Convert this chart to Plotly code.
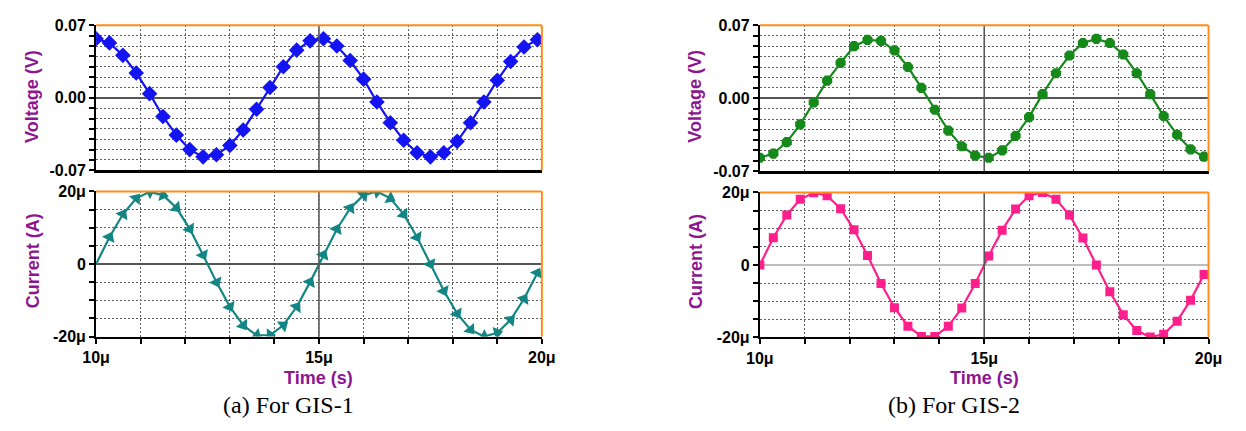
import plotly.graph_objects as go

# ---------------- data ----------------
t_us = [10.0, 10.3, 10.6, 10.9, 11.2, 11.5, 11.8, 12.1, 12.4, 12.7, 13.0, 13.3,
        13.6, 13.9, 14.2, 14.5, 14.8, 15.1, 15.4, 15.7, 16.0, 16.3, 16.6, 16.9,
        17.2, 17.5, 17.8, 18.1, 18.4, 18.7, 19.0, 19.3, 19.6, 19.9]

v_gis1 = [0.057, 0.053, 0.041, 0.024, 0.004, -0.018, -0.036, -0.050, -0.057, -0.055,
          -0.046, -0.031, -0.011, 0.010, 0.030, 0.046, 0.055, 0.057, 0.050, 0.036,
          0.018, -0.004, -0.024, -0.041, -0.053, -0.057, -0.053, -0.042, -0.024, -0.004,
          0.017, 0.035, 0.049, 0.056]

i_gis1 = [0.0, 7.4, 13.7, 18.1, 19.9, 19.0, 15.5, 9.7, 2.5, -5.0,
          -11.8, -16.9, -19.7, -19.6, -16.9, -11.8, -5.0, 2.5, 9.6, 15.4,
          19.0, 20.0, 18.1, 13.7, 7.4, 0.0, -7.4, -13.7, -18.1, -20.0,
          -19.0, -15.4, -9.6, -2.5]

v_gis2 = [-0.057, -0.053, -0.042, -0.025, -0.004, 0.017, 0.034, 0.050, 0.056, 0.055,
          0.046, 0.030, 0.010, -0.011, -0.031, -0.046, -0.055, -0.057, -0.050, -0.036,
          -0.018, 0.004, 0.024, 0.041, 0.053, 0.057, 0.053, 0.042, 0.024, 0.004,
          -0.017, -0.035, -0.049, -0.056]

i_gis2 = [0.0, 7.5, 13.8, 18.1, 19.9, 19.1, 15.5, 9.7, 2.6, -5.1,
          -11.8, -16.9, -19.7, -19.7, -16.9, -11.9, -5.1, 2.5, 9.6, 15.4,
          19.1, 20.0, 18.1, 13.8, 7.4, 0.0, -7.4, -13.7, -18.1, -19.9,
          -19.1, -15.5, -9.7, -2.6]

x_tickvals = [10, 11, 12, 13, 14, 15, 16, 17, 18, 19, 20]
x_ticktext = ["10\u03bc", "", "", "", "", "15\u03bc", "", "", "", "", "20\u03bc"]
v_tickvals = [-0.07, -0.06, -0.05, -0.04, -0.03, -0.02, -0.01, 0.0,
              0.01, 0.02, 0.03, 0.04, 0.05, 0.06, 0.07]
v_ticktext = ["-0.07", "", "", "", "", "", "", "0.00", "", "", "", "", "", "", "0.07"]
i_tickvals = [-20, -15, -10, -5, 0, 5, 10, 15, 20]
i_ticktext = ["-20\u03bc", "", "", "", "0", "", "", "", "20\u03bc"]

# ---------------- styles ----------------
W, H = 1246, 431
ORANGE = "#ff8c1a"
PURPLE = "#8e1592"
GRID = "#5e5e5e"
TICKFONT = dict(family="Liberation Sans, Arial", size=16, color="black", weight="bold")
TITLEFONT = dict(family="Liberation Sans, Arial", size=18, color=PURPLE, weight="bold")


def px_x(p):
    return p / W


def px_y(p):
    return 1 - p / H


panels = {
    # name: (x0px, x1px, y0px(top), y1px(bottom))
    "lt": (84, 540, 18, 169),
    "lb": (84, 540, 191, 342),
    "rt": (763, 1222, 18, 170),
    "rb": (763, 1222, 192, 343),
}

fig = go.Figure()

traces = [
    ("x", "y", v_gis1, "#1414f0", dict(symbol="diamond", size=12)),
    ("x2", "y2", i_gis1, "#138585", dict(symbol="triangle-up", size=12, angleref="previous")),
    ("x3", "y3", v_gis2, "#15891a", dict(symbol="octagon", size=11)),
    ("x4", "y4", i_gis2, "#ff1f8c", dict(symbol="square", size=9)),
]
for xa, ya, vals, col, mk in traces:
    fig.add_trace(go.Scatter(
        x=t_us, y=vals, xaxis=xa, yaxis=ya, mode="lines+markers",
        line=dict(color=col, width=2.2),
        marker=dict(color=col, line=dict(width=0), **mk),
        showlegend=False, cliponaxis=True,
    ))

layout = dict(width=W, height=H, margin=dict(l=0, r=0, t=0, b=0),
              paper_bgcolor="white", plot_bgcolor="white", showlegend=False)

axis_defs = [
    ("xaxis", "yaxis", "lt", "x", "y", "v", False, "#555555"),
    ("xaxis2", "yaxis2", "lb", "x2", "y2", "i", True, "#555555"),
    ("xaxis3", "yaxis3", "rt", "x3", "y3", "v", False, "#555555"),
    ("xaxis4", "yaxis4", "rb", "x4", "y4", "i", True, "#bdbdbd"),
]
shapes = []
for xk, yk, pk, xr, yr, kind, show_x, zcol in axis_defs:
    x0, x1, y0, y1 = panels[pk]
    layout[xk] = dict(
        domain=[px_x(x0), px_x(x1)], anchor=yr, range=[10, 20],
        tickmode="array", tickvals=x_tickvals,
        ticktext=x_ticktext if show_x else [""] * len(x_tickvals),
        showticklabels=show_x, ticks="outside" if show_x else "",
        ticklen=5, tickwidth=1.5, tickcolor="black", tickfont=TICKFONT,
        showgrid=True, gridcolor=GRID, gridwidth=1, griddash="2px,2px",
        showline=True, linecolor="black", linewidth=2.5 if not show_x else 2,
        zeroline=False, fixedrange=True,
    )
    if kind == "v":
        rng, tv, tt = [-0.07, 0.07], v_tickvals, v_ticktext
    else:
        rng, tv, tt = [-20, 20], i_tickvals, i_ticktext
    layout[yk] = dict(
        domain=[px_y(y1), px_y(y0)], anchor=xr, range=rng,
        tickmode="array", tickvals=tv, ticktext=tt,
        ticks="outside", ticklen=5, tickwidth=1.5, tickcolor="black",
        tickfont=TICKFONT,
        showgrid=True, gridcolor=GRID, gridwidth=1, griddash="2px,2px",
        showline=True, linecolor="black", linewidth=2,
        zeroline=True, zerolinecolor=zcol, zerolinewidth=1.5, fixedrange=True,
    )
    # vertical solid line at 15 us
    shapes.append(dict(type="line", xref=xr, yref=f"{yr} domain", x0=15, x1=15, y0=0, y1=1,
                       line=dict(color="#555555", width=1.5), layer="above"))
    # orange top and right borders
    shapes.append(dict(type="line", xref=f"{xr} domain", yref=f"{yr} domain",
                       x0=0, x1=1, y0=1, y1=1, line=dict(color=ORANGE, width=2), layer="above"))
    shapes.append(dict(type="line", xref=f"{xr} domain", yref=f"{yr} domain",
                       x0=1, x1=1, y0=0, y1=1, line=dict(color=ORANGE, width=2), layer="above"))

layout["shapes"] = shapes

ann = []
for xc, yc, txt in [(19, 92, "Voltage (V)"), (19, 263, "Current (A)"),
                    (697, 92, "Voltage (V)"), (697, 264, "Current (A)")]:
    ann.append(dict(xref="paper", yref="paper", x=px_x(xc), y=px_y(yc), text=txt,
                    textangle=-90, showarrow=False, font=TITLEFONT,
                    xanchor="center", yanchor="middle"))
for xc, txt in [(312, "Time (s)"), (993, "Time (s)")]:
    ann.append(dict(xref="paper", yref="paper", x=px_x(xc), y=px_y(385), text=txt,
                    showarrow=False, font=TITLEFONT, xanchor="center", yanchor="middle"))
for xc, txt in [(281, "(a) For GIS-1"), (962, "(b) For GIS-2")]:
    ann.append(dict(xref="paper", yref="paper", x=px_x(xc), y=px_y(413), text=txt,
                    showarrow=False,
                    font=dict(family="Liberation Serif, Times New Roman", size=24, color="black"),
                    xanchor="center", yanchor="middle"))
layout["annotations"] = ann

fig.update_layout(**layout)
fig.write_html("out.html", config={"displayModeBar": False})
